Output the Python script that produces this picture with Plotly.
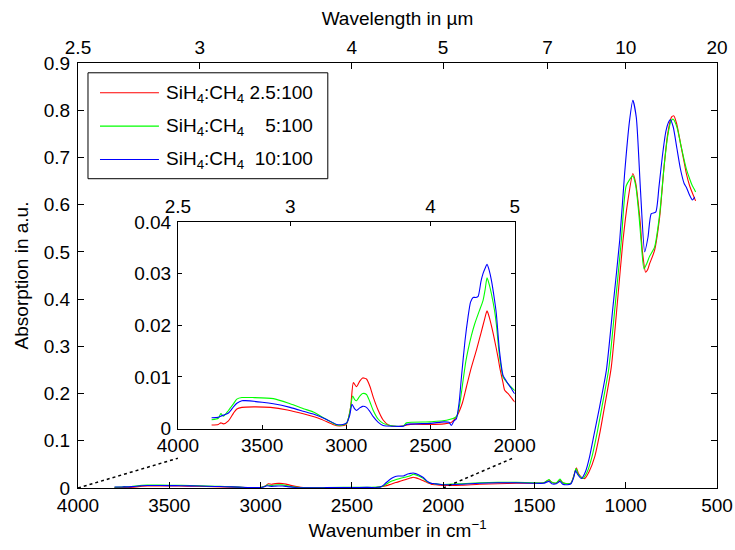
import plotly.graph_objects as go

# ---------------- data ----------------
wn_red = [3800, 3760, 3745, 3730, 3700, 3670, 3650, 3620, 3550, 3450, 3350, 3250, 3150, 3080, 3040, 3000,
          2975, 2958, 2940, 2920, 2903, 2880, 2860, 2840, 2810, 2780, 2750, 2700, 2650, 2620, 2500, 2420,
          2380, 2360, 2340, 2310, 2287, 2260, 2227, 2200, 2180, 2164, 2150, 2135, 2119, 2100, 2089, 2070,
          2059, 2040, 2020, 2000, 1900, 1800, 1700, 1600, 1500, 1450, 1420, 1405, 1380, 1360, 1345, 1320,
          1300, 1285, 1270, 1258, 1240, 1225, 1200, 1170, 1140, 1116, 1079, 1043, 1015, 988, 961, 945,
          933, 920, 909, 891, 880, 869, 842, 814, 790, 770, 750, 736, 720, 700, 680, 668, 650, 630, 617]
abs_red = [0.0007, 0.0008, 0.0011, 0.0009, 0.0015, 0.0030, 0.0038, 0.0041, 0.0042, 0.0041, 0.0036, 0.0028,
           0.0018, 0.0008, 0.0005, 0.0008, 0.0040, 0.0089, 0.0081, 0.0092, 0.0098, 0.0096, 0.0082, 0.0061,
           0.0035, 0.0016, 0.0007, 0.0004, 0.0006, 0.0008, 0.0008, 0.0009, 0.0011, 0.0017, 0.0026, 0.0050,
           0.0080, 0.0115, 0.0152, 0.0185, 0.0210, 0.0228, 0.0215, 0.0195, 0.0171, 0.0140, 0.0119, 0.0090,
           0.0074, 0.0068, 0.0060, 0.0052, 0.0060, 0.0080, 0.0090, 0.0100, 0.0100, 0.0110, 0.0170, 0.0120,
           0.0100, 0.0170, 0.0110, 0.0090, 0.0100, 0.0250, 0.0430, 0.0300, 0.0220, 0.0200, 0.0350, 0.0660,
           0.1200, 0.1720, 0.2560, 0.4040, 0.5240, 0.6090, 0.6660, 0.6450, 0.6090, 0.5600, 0.5030, 0.4570,
           0.4620, 0.4750, 0.5030, 0.5740, 0.6800, 0.7500, 0.7850, 0.7880, 0.7700, 0.7300, 0.6900, 0.6660,
           0.6400, 0.6200, 0.6080]

wn_green = [3800, 3760, 3745, 3730, 3700, 3670, 3650, 3620, 3550, 3433, 3334, 3250, 3196, 3120, 3057, 3020,
            2998, 2980, 2962, 2950, 2939, 2920, 2903, 2880, 2860, 2840, 2810, 2781, 2721, 2662, 2642, 2500,
            2405, 2346, 2325, 2306, 2290, 2277, 2257, 2237, 2210, 2188, 2175, 2164, 2150, 2138, 2120, 2109,
            2090, 2069, 2055, 2040, 2020, 2000, 1900, 1800, 1700, 1600, 1500, 1450, 1420, 1405, 1380, 1360,
            1345, 1320, 1300, 1285, 1272, 1260, 1235, 1210, 1185, 1155, 1130, 1093, 1057, 1024, 997, 961,
            945, 928, 915, 900, 885, 870, 842, 814, 790, 770, 752, 740, 720, 700, 680, 668, 650, 635, 625, 617]
abs_green = [0.0017, 0.0020, 0.0029, 0.0024, 0.0035, 0.0048, 0.0057, 0.0060, 0.0060, 0.0058, 0.0048, 0.0038,
             0.0032, 0.0018, 0.0007, 0.0007, 0.0010, 0.0030, 0.0063, 0.0056, 0.0054, 0.0063, 0.0068, 0.0066,
             0.0052, 0.0035, 0.0018, 0.0010, 0.0005, 0.0005, 0.0011, 0.0013, 0.0016, 0.0023, 0.0050, 0.0094,
             0.0130, 0.0152, 0.0180, 0.0203, 0.0228, 0.0248, 0.0270, 0.0292, 0.0278, 0.0261, 0.0230, 0.0203,
             0.0140, 0.0100, 0.0093, 0.0087, 0.0080, 0.0074, 0.0090, 0.0110, 0.0120, 0.0120, 0.0110, 0.0110,
             0.0180, 0.0120, 0.0110, 0.0190, 0.0110, 0.0090, 0.0100, 0.0240, 0.0410, 0.0290, 0.0200, 0.0350,
             0.0660, 0.1200, 0.1720, 0.2520, 0.3900, 0.5240, 0.6400, 0.6610, 0.6400, 0.5800, 0.5200, 0.4640,
             0.4750, 0.4900, 0.5100, 0.5800, 0.6800, 0.7450, 0.7770, 0.7810, 0.7650, 0.7300, 0.6950, 0.6760,
             0.6550, 0.6400, 0.6330, 0.6270]

wn_blue = [3800, 3760, 3745, 3700, 3670, 3650, 3620, 3600, 3500, 3433, 3334, 3250, 3196, 3120, 3057, 3020,
           2998, 2980, 2966, 2950, 2939, 2920, 2903, 2880, 2860, 2840, 2810, 2781, 2721, 2662, 2642, 2500,
           2420, 2390, 2376, 2360, 2346, 2330, 2316, 2295, 2277, 2262, 2247, 2230, 2217, 2200, 2188, 2176,
           2164, 2150, 2138, 2120, 2109, 2090, 2069, 2055, 2040, 2020, 2000, 1900, 1800, 1700, 1600, 1500,
           1450, 1420, 1405, 1380, 1360, 1345, 1320, 1300, 1285, 1275, 1262, 1243, 1220, 1198, 1170, 1143,
           1106, 1070, 1033, 1006, 979, 961, 942, 919, 896, 878, 860, 836, 818, 800, 780, 765, 756, 740,
           720, 700, 680, 668, 650, 635, 622]
abs_blue = [0.0021, 0.0022, 0.0024, 0.0030, 0.0042, 0.0049, 0.0054, 0.0054, 0.0051, 0.0048, 0.0041, 0.0033,
            0.0028, 0.0018, 0.0008, 0.0008, 0.0011, 0.0025, 0.0047, 0.0038, 0.0035, 0.0040, 0.0043, 0.0041,
            0.0033, 0.0023, 0.0012, 0.0006, 0.00045, 0.00045, 0.0008, 0.0010, 0.0013, 0.0012, 0.0006, 0.0015,
            0.0019, 0.0050, 0.0100, 0.0170, 0.0216, 0.0245, 0.0254, 0.0254, 0.0256, 0.0285, 0.0300, 0.0310,
            0.0318, 0.0305, 0.0287, 0.0250, 0.0223, 0.0150, 0.0103, 0.0095, 0.0087, 0.0078, 0.0068, 0.0080,
            0.0100, 0.0110, 0.0110, 0.0100, 0.0100, 0.0140, 0.0090, 0.0090, 0.0140, 0.0080, 0.0070, 0.0090,
            0.0220, 0.0370, 0.0280, 0.0200, 0.0350, 0.0660, 0.1200, 0.1720, 0.2490, 0.3830, 0.5240, 0.6660,
            0.7780, 0.8210, 0.7850, 0.6300, 0.5000, 0.5310, 0.5810, 0.5840, 0.6370, 0.7000, 0.7550, 0.7750,
            0.7800, 0.7650, 0.7200, 0.6750, 0.6450, 0.6370, 0.6200, 0.6100, 0.6160]

series_names = ["SiH<sub>4</sub>:CH<sub>4</sub>\u00a02.5:100",
                "SiH<sub>4</sub>:CH<sub>4</sub>\u00a0\u00a0\u00a0\u00a05:100",
                "SiH<sub>4</sub>:CH<sub>4</sub>\u00a0\u00a010:100"]
series_colors = ["#ff0000", "#00ff00", "#0000ff"]

main_xticks = [4000, 3500, 3000, 2500, 2000, 1500, 1000, 500]
main_yticks = [0, 0.1, 0.2, 0.3, 0.4, 0.5, 0.6, 0.7, 0.8, 0.9]
wl_ticks_main = [2.5, 3, 4, 5, 7, 10, 20]
inset_xticks = [4000, 3500, 3000, 2500, 2000]
inset_yticks = [0, 0.01, 0.02, 0.03, 0.04]
wl_ticks_inset = [2.5, 3, 4, 5]

main_xrange = [4000, 500]
main_yrange = [0, 0.9]
inset_xrange = [4000, 2000]
inset_yrange = [0, 0.04]

# ---------------- layout geometry (pixels) ----------------
W, H = 735, 550
PL, PR, PT, PB = 78, 717.5, 62.5, 487.8       # main plot area edges
PW, PH = PR - PL, PB - PT


def px_x(x):   # pixel x -> paper x
    return (x - PL) / PW


def px_y(y):   # pixel y -> paper y
    return (PB - y) / PH


ins_dx = [px_x(178), px_x(515)]
ins_dy = [px_y(428.3), px_y(221.7)]

FONT = "Liberation Sans, Arial, Helvetica, sans-serif"
FS = 19

fig = go.Figure()
for wn, ab, name, col in zip([wn_red, wn_green, wn_blue], [abs_red, abs_green, abs_blue],
                             series_names, series_colors):
    fig.add_trace(go.Scatter(x=wn, y=ab, mode="lines", name=name, showlegend=False,
                             line=dict(color=col, width=1.1, shape="spline", smoothing=0.6),
                             xaxis="x", yaxis="y"))
for wn, ab, col in zip([wn_red, wn_green, wn_blue], [abs_red, abs_green, abs_blue], series_colors):
    fig.add_trace(go.Scatter(x=wn, y=ab, mode="lines", showlegend=False,
                             line=dict(color=col, width=1.1, shape="spline", smoothing=0.6),
                             xaxis="x3", yaxis="y3"))
# empty traces so that the wavelength (top) axes get drawn
fig.add_trace(go.Scatter(x=[None], y=[None], xaxis="x2", yaxis="y", showlegend=False, hoverinfo="skip"))
fig.add_trace(go.Scatter(x=[None], y=[None], xaxis="x4", yaxis="y3", showlegend=False, hoverinfo="skip"))

axis_common = dict(showline=True, linecolor="black", linewidth=1, ticks="inside",
                   tickcolor="black", showgrid=False, zeroline=False, automargin=False,
                   tickfont=dict(family=FONT, size=FS, color="black"))

fig.update_layout(
    width=W, height=H,
    margin=dict(l=PL, r=W - PR, t=PT, b=H - PB, autoexpand=False),
    paper_bgcolor="white", plot_bgcolor="white",
    font=dict(family=FONT, size=FS, color="black"),
    xaxis=dict(domain=[0, 1], range=main_xrange, anchor="y", tickvals=main_xticks,
               ticklen=6, mirror=False,
               title=dict(text="Wavenumber in cm<sup>\u22121</sup>", font=dict(size=FS), standoff=8),
               **axis_common),
    xaxis2=dict(overlaying="x", side="top", anchor="y", range=main_xrange,
                tickvals=[10000 / w for w in wl_ticks_main], ticktext=[f"{w:g}" for w in wl_ticks_main],
                ticklen=6,
                title=dict(text="Wavelength in \u00b5m", font=dict(size=FS), standoff=6),
                **axis_common),
    yaxis=dict(domain=[0, 1], range=main_yrange, anchor="x", tickvals=main_yticks,
               ticktext=[f"{v:g}" for v in main_yticks], ticklen=6, mirror="ticks",
               ticklabelstandoff=3,
               title=dict(text="Absorption in a.u.", font=dict(size=FS), standoff=10),
               **axis_common),
    xaxis3=dict(domain=ins_dx, range=inset_xrange, anchor="y3", tickvals=inset_xticks,
                ticklen=4, mirror=False, **axis_common),
    xaxis4=dict(overlaying="x3", side="top", anchor="y3", range=inset_xrange,
                tickvals=[10000 / w for w in wl_ticks_inset], ticktext=[f"{w:g}" for w in wl_ticks_inset],
                ticklen=4, **axis_common),
    yaxis3=dict(domain=ins_dy, range=inset_yrange, anchor="x3", tickvals=inset_yticks,
                ticktext=[f"{v:g}" for v in inset_yticks], ticklen=4, mirror="ticks",
                ticklabelstandoff=2,
                **axis_common),
    showlegend=False,
)

# ---- legend drawn as a boxed key (line samples + labels) ----
fig.add_shape(type="rect", xref="paper", yref="paper",
              x0=px_x(88), x1=px_x(328), y0=px_y(178.3), y1=px_y(72.3),
              line=dict(color="black", width=1), fillcolor="white", layer="above")
legend_rows_y = [92.3, 125.7, 159]
for name, col, ry in zip(series_names, series_colors, legend_rows_y):
    fig.add_shape(type="line", xref="paper", yref="paper",
                  x0=px_x(100), x1=px_x(159), y0=px_y(ry), y1=px_y(ry),
                  line=dict(color=col, width=1.1), layer="above")
    fig.add_annotation(xref="paper", yref="paper", x=px_x(164), y=px_y(ry + 1),
                       text=name, showarrow=False, xanchor="left", yanchor="middle",
                       font=dict(family=FONT, size=FS, color="black"))

# dotted connectors from main axis (wavenumber, 0) to inset bottom corners
def main_paper_x(w):
    return (main_xrange[0] - w) / (main_xrange[0] - main_xrange[1])

end_y = px_y(458)
for w_main, x_end in [(inset_xrange[0], ins_dx[0]), (inset_xrange[1], px_x(513))]:
    fig.add_shape(type="line", xref="paper", yref="paper",
                  x0=main_paper_x(w_main), y0=0, x1=x_end, y1=end_y,
                  line=dict(color="black", width=1.5, dash="dot"))

fig.write_html("out.html",
               config={"displayModeBar": False},
               post_script="document.body.style.margin='0';document.body.style.padding='0';")
